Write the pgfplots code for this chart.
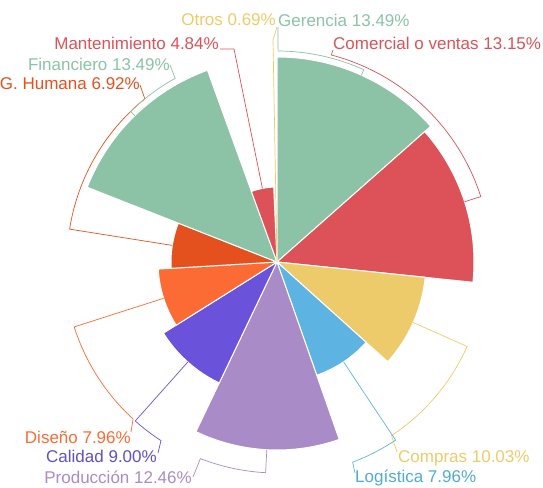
\documentclass[border=0pt]{standalone}
\usepackage{pgfplots}
\pgfplotsset{compat=1.18}
\usepackage{fontspec}
\setmainfont{Liberation Sans}

\definecolor{cgreen}{RGB}{140,194,166}
\definecolor{cred}{RGB}{220,82,88}
\definecolor{cyellow}{RGB}{238,203,106}
\definecolor{cblue}{RGB}{93,179,226}
\definecolor{clav}{RGB}{169,139,200}
\definecolor{cpurple}{RGB}{106,82,218}
\definecolor{corange}{RGB}{253,107,53}
\definecolor{credor}{RGB}{228,81,31}
\definecolor{tblue}{RGB}{80,170,215}
\definecolor{tpurple}{RGB}{95,80,200}

\tikzset{lab/.style={font=\fontsize{17}{20}\selectfont, inner sep=0pt}}

% running total of the percentages, sectors start at 12 o'clock and go clockwise
\gdef\cum{0}
% #1 colour, #2 percent (angle), #3 radius
\newcommand\sector[3]{%
  \pgfmathsetmacro\aS{90-3.6*\cum}%
  \pgfmathsetmacro\aE{90-3.6*(\cum+#2)}%
  \pgfmathsetmacro\newcum{\cum+#2}%
  \xdef\cum{\newcum}%
  \gdef\pts{(0,0)}%
  \foreach \k in {0,...,30}{%
    \pgfmathsetmacro\ang{\aS+(\aE-\aS)*\k/30}%
    \xdef\pts{\pts\space(\ang,#3)}%
  }%
  \edef\tmp{\noexpand\addplot[fill=#1, draw=white, line width=1pt, data cs=polar] coordinates {\pts\space(0,0)};}%
  \tmp
}
% label line: colour, mid angle, sector radius, outer radius, end angle, label x, label y
\newcommand\leader[7]{%
  \draw[#1, line width=0.7pt] ([shift={(O)}]#2:#3pt) -- ([shift={(O)}]#2:#4pt)
    arc[start angle=#2, end angle=#5, radius=#4pt] -- (axis cs:#6,#7);
}

\begin{document}
\begin{tikzpicture}
\begin{axis}[
  scale only axis, width=543pt, height=487pt,
  xmin=-277, xmax=266, ymin=-225, ymax=262,
  hide axis, clip=false,
]
\sector{cgreen}{13.49}{205}   % Gerencia
\sector{cred}{13.15}{197}     % Comercial o ventas
\sector{cyellow}{10.03}{149}  % Compras
\sector{cblue}{7.96}{120}     % Logistica
\sector{clav}{12.46}{188}     % Produccion
\sector{cpurple}{9.00}{134}   % Calidad
\sector{corange}{7.96}{119}   % Diseno
\sector{credor}{6.92}{106}    % G. Humana
\sector{cgreen}{13.49}{204}   % Financiero
\sector{cred}{4.84}{75}       % Mantenimiento
\sector{cyellow}{0.69}{0}     % Otros

\coordinate (O) at (axis cs:0,0);
\leader{cgreen}{65.7}{205}{211}{89.7}{1}{235}
\leader{cred}{17.8}{197}{214}{75.3}{56}{212}
\leader{cyellow}{-23.96}{149}{208}{-56.6}{120}{-190}
\leader{cblue}{-56.34}{120}{214}{-69.3}{78}{-211}
\leader{clav}{-93.1}{188}{211}{-111.3}{-84}{-215}
\leader{cpurple}{-131.72}{134}{213}{-123}{-119}{-191}
\leader{corange}{197.75}{119}{213}{227.5}{-146}{-170}
\leader{credor}{171}{106}{210}{129}{-137}{177}
\leader{cgreen}{134.2}{204}{210}{119}{-107}{197}
\draw[cred, line width=0.7pt] ([shift={(O)}]101.2:75pt) -- (axis cs:-43,213) -- (axis cs:-57,213);
\draw[cyellow, line width=0.7pt] (O) -- (axis cs:-4,222) -- (axis cs:0,235);

\node[lab, anchor=east, text=cyellow] at (axis cs:-1,242) {Otros 0.69\%};
\node[lab, anchor=west, text=cgreen] at (axis cs:1,242) {Gerencia 13.49\%};
\node[lab, anchor=east, text=cred] at (axis cs:-58,219) {Mantenimiento 4.84\%};
\node[lab, anchor=west, text=cred] at (axis cs:56,219) {Comercial o ventas 13.15\%};
\node[lab, anchor=east, text=cgreen] at (axis cs:-107,198) {Financiero 13.49\%};
\node[lab, anchor=east, text=credor] at (axis cs:-137,178) {G. Humana 6.92\%};
\node[lab, anchor=east, text=corange] at (axis cs:-146,-175) {Diseño 7.96\%};
\node[lab, anchor=east, text=tpurple] at (axis cs:-120,-194) {Calidad 9.00\%};
\node[lab, anchor=east, text=clav] at (axis cs:-85,-215) {Producción 12.46\%};
\node[lab, anchor=west, text=cyellow] at (axis cs:121,-196) {Compras 10.03\%};
\node[lab, anchor=west, text=tblue] at (axis cs:78,-216) {Logística 7.96\%};
\end{axis}
\pgfresetboundingbox
\path (current axis.south west) rectangle (current axis.north east);
\end{tikzpicture}
\end{document}
